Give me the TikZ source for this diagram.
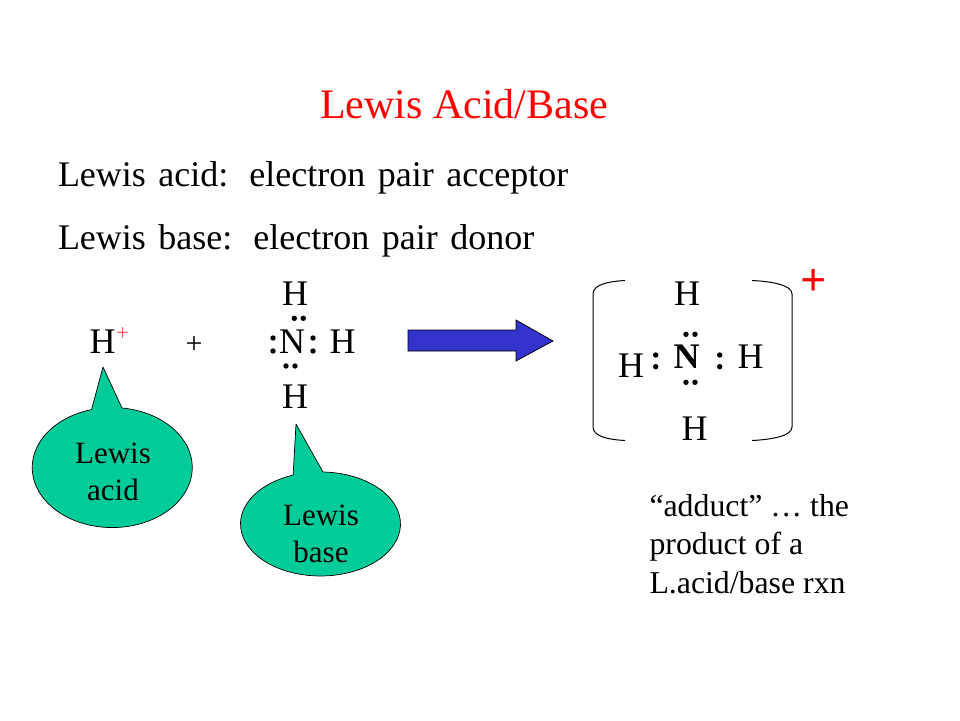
\documentclass[tikz,border=0pt]{standalone}
\usepackage{fontspec}
\setmainfont{Liberation Serif}
\definecolor{calloutgreen}{RGB}{0,204,153}
\definecolor{arrowblue}{RGB}{51,51,204}
\newcommand{\fs}[1]{\fontsize{#1}{#1}\selectfont}
\newcommand{\headfont}{\fs{36}\spaceskip 12.5pt\relax}
\tikzset{
  txt/.style={anchor=base,inner sep=0pt,outer sep=0pt},
  ltxt/.style={anchor=base west,inner sep=0pt,outer sep=0pt},
  atom/.style={txt,font=\fs{36}},
  heading/.style={ltxt,font=\headfont},
  calltext/.style={txt,font=\fs{31}},
  note/.style={ltxt,font=\fs{31.8}},
  callout/.style={fill=calloutgreen,draw=black,line width=0.7pt,line join=round},
  bracket/.style={draw=black,line width=1pt},
  dot/.style={fill=black}
}
\begin{document}
\begin{tikzpicture}[x=1pt,y=-1pt]
\useasboundingbox (0,0) rectangle (960,720);
\fill[white] (0,0) rectangle (960,720);
\node[ltxt,text=red,font=\fs{42}] (title) at (320,118) {Lewis Acid/Base};
\node[heading] (acid) at (58,186) {Lewis acid:\hspace{21pt}electron pair acceptor};
\node[heading] (base) at (58,249) {Lewis base:\hspace{21pt}electron pair donor};
% left molecule
\node[atom] (hplus) at (102.7,353) {H};
\node[txt,text=red!65,font=\fs{23}] (hcharge) at (122.7,340.6) {+};
\node[txt,font=\fs{30}] (plus) at (194,353) {+};
\node[atom] (n1) at (292,353) {N};
\node[atom] (h1t) at (295,305) {H};
\node[atom] (h1r) at (342.7,353) {H};
\node[atom] (h1b) at (295,408) {H};
\foreach \x/\y in {294.3/318.3,303.3/318.3,273/338,273/351,313/338,313/351,286/366,295/366}
  \fill[dot] (\x,\y) circle[radius=2.7];
% arrow
\draw[fill=arrowblue,draw=black,line width=0.7pt,line join=miter]
  (408,330) -- (516,330) -- (516,320) -- (553,341) -- (516,361) -- (516,351) -- (408,351) -- cycle;
% brackets
\draw[bracket] (625,280.5) .. controls (607,281.5) and (593,285) .. (593,294) -- (593,427) .. controls (593,436) and (607,439.5) .. (625,440.5);
\draw[bracket] (752,280.5) .. controls (772,281.5) and (792,285) .. (792,294) -- (792,427) .. controls (792,436) and (772,439.5) .. (752,440.5);
% right molecule
\node[atom,font=\fs{36}\bfseries] (n2) at (686.7,368) {N};
\node[atom] (h2t) at (687,305) {H};
\node[atom] (h2l) at (631,377) {H};
\node[atom] (h2r) at (750.7,368) {H};
\node[atom] (h2b) at (694.7,440) {H};
\foreach \x/\y in {686/334.3,695/334.3,686/382.3,695/382.3,655.7/355,655.7/366.7,719.7/355,719.7/366.7}
  \fill[dot] (\x,\y) circle[radius=2.7];
\node[txt,text=red,font=\fs{46}\bfseries] (charge) at (814,295) {+};
% callouts
\draw[callout] (122,408) arc[start angle=-83,end angle=255,x radius=80,y radius=60] -- (103,367) -- cycle;
\draw[callout] (323,472) arc[start angle=-88.2,end angle=250,x radius=80,y radius=52] -- (296,424) -- cycle;
\node[calltext] (la1) at (113,463) {Lewis};
\node[calltext] (la2) at (113,500) {acid};
\node[calltext] (lb1) at (321,525) {Lewis};
\node[calltext] (lb2) at (321,562) {base};
% note
\node[note] (n1l) at (649.5,516) {“adduct” … the};
\node[note] (n2l) at (649.5,554) {product of a};
\node[note] (n3l) at (649.5,593) {L.acid/base rxn};
\end{tikzpicture}
\end{document}
